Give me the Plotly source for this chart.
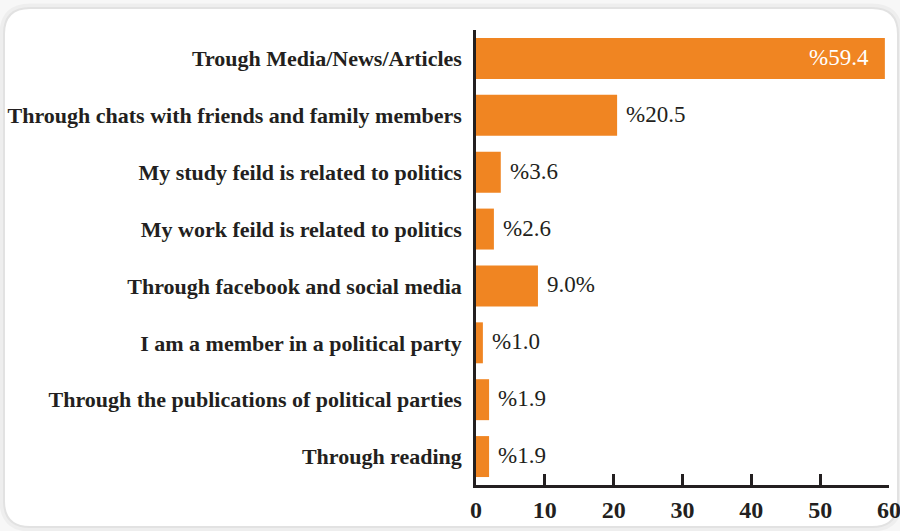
import plotly.graph_objects as go

# Sources of political information (percent of respondents)
categories = [
    "Trough Media/News/Articles",
    "Through chats with friends and family members",
    "My study feild is related to politics",
    "My work feild is related to politics",
    "Through facebook and social media",
    "I am a member in a political party",
    "Through the publications of political parties",
    "Through reading",
]
values = [59.4, 20.5, 3.6, 2.6, 9.0, 1.0, 1.9, 1.9]
value_labels = ["%59.4", "%20.5", "%3.6", "%2.6", "9.0%", "%1.0", "%1.9", "%1.9"]
tick_values = [0, 10, 20, 30, 40, 50, 60]

W, H = 900, 531
L, R, T, B = 476, 11, 30, 46
pw, ph = W - L - R, H - T - B

def px(x):
    return (x - L) / pw

def py(y):
    return (H - B - y) / ph

BAR = "#F08522"
INK = "#231F20"
SERIF = "Liberation Serif"

fig = go.Figure(
    go.Bar(
        x=values,
        y=categories,
        orientation="h",
        marker=dict(color=BAR, line=dict(width=0)),
        hoverinfo="skip",
    )
)

# value labels: white inside the long bar, dark just past the end of the others
annotations = []
for cat, val, lab in zip(categories, values, value_labels):
    inside = val > 40
    annotations.append(dict(
        x=val, y=cat, xref="x", yref="y",
        text=lab, showarrow=False,
        xanchor="right" if inside else "left",
        xshift=-14 if inside else 7,
        yshift=1,
        font=dict(family=SERIF, size=23, color="white" if inside else INK),
    ))

# rounded frame around the whole chart
x0, x1, y0, y1, r = 4, 898, 8, 527, 26
frame = (
    f"M {px(x0 + r)} {py(y0)} L {px(x1 - r)} {py(y0)} "
    f"Q {px(x1)} {py(y0)} {px(x1)} {py(y0 + r)} "
    f"L {px(x1)} {py(y1 - r)} Q {px(x1)} {py(y1)} {px(x1 - r)} {py(y1)} "
    f"L {px(x0 + r)} {py(y1)} Q {px(x0)} {py(y1)} {px(x0)} {py(y1 - r)} "
    f"L {px(x0)} {py(y0 + r)} Q {px(x0)} {py(y0)} {px(x0 + r)} {py(y0)} Z"
)
shapes = [
    dict(type="path", xref="paper", yref="paper", path=frame,
         line=dict(color="rgba(0,0,0,0.035)", width=9), layer="below"),
    dict(type="path", xref="paper", yref="paper", path=frame,
         line=dict(color="#E2E2E2", width=2), fillcolor="white", layer="below"),
]

fig.update_layout(
    width=W,
    height=H,
    margin=dict(l=L, r=R, t=T, b=B, pad=0, autoexpand=False),
    paper_bgcolor="#F7F7F7",
    plot_bgcolor="rgba(0,0,0,0)",
    bargap=0.28,
    showlegend=False,
    shapes=shapes,
    annotations=annotations,
    xaxis=dict(
        range=[0, 60],
        tickvals=tick_values,
        automargin=False,
        showgrid=False,
        zeroline=False,
        showline=True,
        linecolor=INK,
        linewidth=2.5,
        ticks="inside",
        ticklen=11,
        tickwidth=2.5,
        tickcolor=INK,
        tickfont=dict(family=SERIF, size=24, color=INK, weight="bold"),
        ticklabelstandoff=1,
        ticklabeloverflow="allow",
    ),
    yaxis=dict(
        autorange="reversed",
        automargin=False,
        showgrid=False,
        zeroline=False,
        showline=True,
        linecolor=INK,
        linewidth=2.5,
        ticks="",
        tickfont=dict(family=SERIF, size=22, color=INK, weight="bold"),
        ticklabelstandoff=7,
    ),
)

fig.write_html("out.html")
